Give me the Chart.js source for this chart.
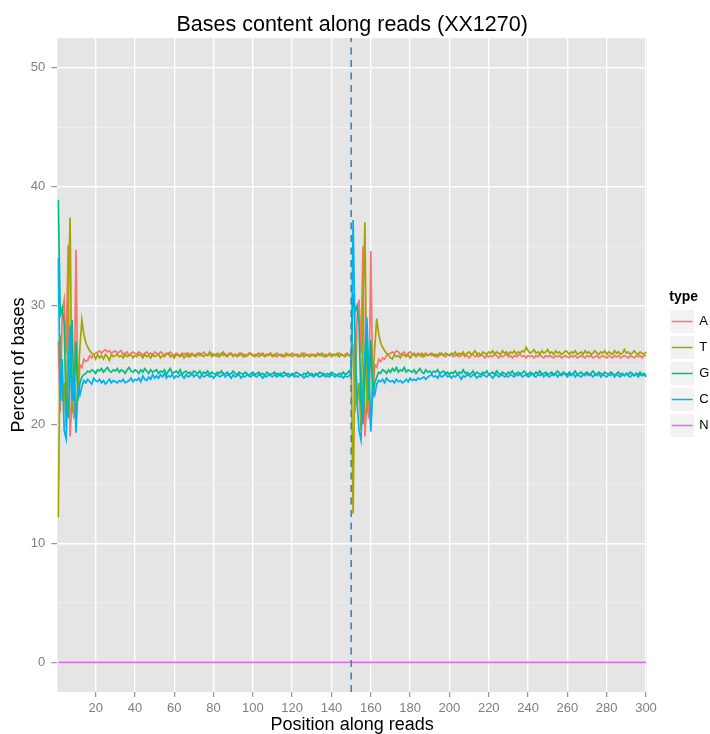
<!DOCTYPE html>
<html>
<head>
<meta charset="utf-8">
<script src="https://cdn.jsdelivr.net/npm/chart.js@4"></script>
<style>html,body{margin:0;padding:0;background:#ffffff}canvas{display:block}</style>
</head>
<body>
<canvas id="c" width="710" height="734"></canvas>
<script>
// ---------- data ----------
const positions = [];
for (let p = 1; p <= 300; p++) positions.push(p);

const seriesNames = ['A', 'T', 'G', 'C', 'N'];
const xTickValues = [20, 40, 60, 80, 100, 120, 140, 160, 180, 200, 220, 240, 260, 280, 300];
const yMajorTicks = [0, 10, 20, 30, 40, 50];
const yMinorTicks = [5, 15, 25, 35, 45];
const vlinePosition = 150;

const baseA = [
27.0,21.0,29.5,30.5,26.0,35.1,19.0,22.0,20.5,34.7,
22.2,25.0,24.8,25.5,25.3,25.4,25.8,25.6,25.9,26.0,
26.1,26.2,26.0,26.2,26.3,26.1,26.2,26.0,26.1,26.2,
26.0,26.1,26.2,25.9,26.0,26.1,25.8,26.0,26.1,26.0,
25.9,26.1,26.0,25.8,26.0,26.1,25.9,26.0,25.8,26.1,
26.0,25.9,26.1,26.0,25.8,26.0,25.9,26.1,25.9,25.8,
26.0,25.9,25.8,26.0,25.9,26.0,25.7,25.9,26.0,25.8,
25.9,26.0,25.8,25.9,26.1,25.9,25.8,25.9,26.0,25.8,
25.9,25.7,25.9,26.0,25.8,25.9,25.8,26.0,25.9,25.7,
25.9,25.8,26.0,25.9,25.7,25.9,25.8,25.9,26.0,25.8,
25.9,25.8,25.7,25.9,26.0,25.8,25.9,25.8,25.9,25.7,
25.8,26.0,25.9,25.8,25.9,25.7,25.8,25.9,25.8,26.0,
25.9,25.8,25.9,25.7,25.8,26.0,25.9,25.8,25.9,25.8,
25.9,25.8,26.0,25.9,25.8,25.7,25.9,25.8,26.0,25.9,
25.8,25.9,25.8,26.0,25.9,25.8,25.9,26.0,25.8,25.9,
26.5,21.0,29.0,30.5,26.0,35.0,19.0,22.0,20.5,34.6,
22.2,25.0,24.8,25.5,25.3,25.6,25.5,25.8,25.9,26.0,
26.1,26.0,26.2,26.1,25.9,26.0,26.1,25.8,26.0,26.1,
25.9,26.0,25.8,26.0,25.9,25.7,25.9,26.0,25.8,25.9,
25.8,25.9,25.7,25.9,25.8,26.0,25.8,25.7,25.9,25.8,
25.9,25.7,25.8,25.9,25.7,25.8,25.9,25.7,25.8,25.6,
25.8,25.9,25.7,25.8,25.7,25.9,25.8,25.6,25.8,25.7,
25.8,25.7,25.9,25.8,25.6,25.8,25.7,25.8,25.9,25.7,
25.8,25.6,25.8,25.7,25.8,25.9,25.7,25.8,25.6,25.8,
25.7,25.8,25.6,25.8,25.7,25.9,25.7,25.6,25.8,25.7,
25.8,25.7,25.6,25.8,25.7,25.8,25.6,25.7,25.8,25.7,
25.6,25.8,25.7,25.8,25.6,25.7,25.8,25.7,25.6,25.8,
25.7,25.8,25.6,25.7,25.8,25.6,25.7,25.8,25.7,25.6,
25.8,25.7,25.6,25.8,25.7,25.8,25.6,25.7,25.8,25.7,
25.6,25.8,25.7,25.6,25.8,25.7,25.8,25.6,25.8,25.8
];

const baseT = [
12.2,27.5,22.0,23.5,19.8,30.0,37.4,21.0,25.0,20.2,
23.5,26.5,28.8,27.6,26.9,26.5,26.2,26.0,25.9,25.5,
25.9,25.6,25.8,25.5,25.9,25.7,25.4,25.9,25.7,25.8,
25.9,25.7,25.8,25.6,25.9,25.7,25.8,25.9,25.6,25.8,
25.7,25.9,25.8,25.6,25.9,25.7,25.8,25.6,25.9,25.7,
25.8,25.9,25.6,25.8,25.7,25.9,26.0,25.7,25.8,25.6,
25.9,25.8,25.7,25.9,25.6,25.8,26.0,25.7,25.9,25.8,
25.7,25.9,26.0,25.8,25.7,25.9,25.8,26.1,25.7,25.9,
25.8,26.0,25.7,25.9,26.1,25.8,25.7,25.9,26.0,25.8,
25.9,25.7,25.8,26.0,25.9,25.7,25.8,26.0,25.9,25.8,
25.7,25.9,26.0,25.8,25.9,25.7,25.8,25.9,26.0,25.8,
25.9,25.7,25.8,25.9,25.7,25.8,26.0,25.8,25.9,25.7,
25.8,25.9,25.7,25.8,26.0,25.7,25.9,25.8,25.7,25.9,
25.8,25.7,25.9,25.8,26.0,25.9,25.7,25.8,25.9,25.7,
25.9,25.8,26.0,25.7,25.9,25.8,25.7,25.9,25.8,25.7,
12.5,28.0,21.5,23.5,19.5,30.0,37.0,21.0,25.0,20.0,
23.5,26.5,28.9,27.6,26.9,26.5,26.2,26.0,25.8,25.6,
25.5,25.9,25.7,25.8,25.6,25.9,25.8,25.7,25.9,25.6,
25.8,25.9,25.7,25.9,25.8,26.0,25.7,25.9,25.8,25.9,
26.0,25.8,25.9,25.7,26.0,25.9,25.8,26.0,25.9,25.8,
26.0,25.9,26.1,25.8,26.0,25.9,26.1,25.8,26.0,26.1,
25.9,26.0,26.2,25.9,26.0,25.8,26.1,26.0,25.9,26.1,
26.0,26.2,25.9,26.1,26.0,25.9,26.2,26.0,26.1,25.9,
26.1,26.0,26.2,25.9,26.1,26.0,26.2,26.1,26.5,26.2,
26.0,26.1,26.3,26.0,26.1,25.9,26.2,26.0,26.1,26.3,
26.0,26.1,25.9,26.2,26.0,26.1,25.9,26.0,26.2,26.1,
25.9,26.1,26.0,26.2,25.9,26.0,26.1,25.9,26.2,26.0,
26.1,25.9,26.0,26.2,26.0,25.9,26.1,26.0,26.2,25.9,
26.1,26.0,25.9,26.2,26.0,26.1,25.9,26.0,26.3,26.0,
26.1,25.9,26.0,26.2,26.0,25.9,26.1,26.0,25.9,26.1
];

const baseG = [
38.9,29.2,29.8,28.5,21.0,20.7,24.0,28.8,22.0,27.0,
22.0,23.5,24.0,24.2,24.3,24.5,24.4,24.6,24.5,24.3,
24.6,24.5,24.7,24.4,24.6,24.8,24.5,24.4,24.6,24.5,
24.7,24.4,24.6,24.5,24.3,24.6,24.8,24.5,24.4,24.6,
24.5,24.3,24.6,24.4,24.7,24.5,24.3,24.6,24.4,24.5,
24.6,24.3,24.5,24.4,24.6,24.2,24.5,24.7,24.3,24.4,
24.5,24.3,24.6,24.2,24.4,24.5,24.3,24.4,24.2,24.5,
24.4,24.3,24.5,24.2,24.4,24.3,24.5,24.2,24.4,24.3,
24.2,24.4,24.3,24.5,24.2,24.3,24.4,24.2,24.3,24.5,
24.3,24.2,24.4,24.3,24.2,24.4,24.3,24.1,24.3,24.4,
24.2,24.3,24.4,24.2,24.3,24.1,24.4,24.3,24.2,24.3,
24.4,24.2,24.3,24.1,24.3,24.4,24.2,24.3,24.1,24.3,
24.2,24.4,24.3,24.2,24.1,24.3,24.2,24.4,24.2,24.3,
24.1,24.3,24.2,24.4,24.3,24.1,24.2,24.3,24.2,24.4,
24.3,24.2,24.1,24.3,24.2,24.4,24.2,24.3,24.5,24.2,
31.0,29.5,30.0,28.5,22.0,20.0,24.0,27.5,22.0,27.1,
22.5,23.5,24.0,24.4,24.3,24.6,24.5,24.3,24.6,24.4,
24.7,24.5,24.8,24.4,24.6,24.5,24.8,24.4,24.6,24.5,
24.4,24.6,24.3,24.5,24.7,24.4,24.3,24.6,24.4,24.5,
24.3,24.5,24.4,24.6,24.3,24.4,24.5,24.3,24.4,24.2,
24.4,24.3,24.5,24.2,24.4,24.3,24.6,24.3,24.4,24.2,
24.3,24.5,24.2,24.4,24.3,24.2,24.4,24.3,24.5,24.2,
24.3,24.4,24.2,24.5,24.3,24.2,24.4,24.3,24.2,24.4,
24.3,24.5,24.2,24.3,24.4,24.2,24.3,24.5,24.3,24.2,
24.4,24.3,24.2,24.4,24.3,24.5,24.2,24.3,24.4,24.2,
24.3,24.4,24.2,24.3,24.5,24.3,24.2,24.4,24.3,24.2,
24.4,24.2,24.3,24.5,24.2,24.3,24.4,24.2,24.3,24.4,
24.2,24.3,24.5,24.3,24.2,24.4,24.3,24.2,24.4,24.3,
24.2,24.4,24.3,24.1,24.3,24.4,24.2,24.3,24.1,24.3,
24.2,24.4,24.3,24.1,24.3,24.2,24.4,24.2,24.3,24.1
];

const baseC = [
34.0,22.0,25.5,19.5,18.8,24.0,28.3,22.0,24.5,19.3,
23.0,22.5,23.2,23.7,23.5,23.8,23.6,23.4,23.9,23.7,
23.6,23.8,23.5,23.7,23.4,23.6,23.8,23.5,23.7,23.6,
23.5,23.7,23.6,23.8,23.5,23.6,23.7,23.9,23.6,23.8,
23.7,23.9,23.6,24.1,23.8,23.7,24.0,23.8,24.2,23.9,
24.1,23.9,24.2,24.0,24.3,23.9,24.1,24.0,24.2,23.9,
24.1,24.0,24.2,24.1,23.9,24.2,24.0,24.1,24.3,24.0,
24.2,24.1,23.9,24.2,24.0,24.1,24.2,24.0,24.1,23.9,
24.1,24.2,24.0,24.1,24.3,24.0,24.2,24.1,23.9,24.2,
24.0,24.1,24.2,23.9,24.1,24.0,24.2,24.1,24.0,24.2,
24.1,24.0,24.2,24.1,23.9,24.1,24.0,24.2,24.1,24.0,
24.2,24.0,24.1,24.3,24.0,24.1,24.2,24.0,24.1,24.2,
24.0,24.1,24.0,24.2,24.1,23.9,24.1,24.0,24.2,24.1,
24.0,24.2,24.1,24.0,24.1,24.3,24.0,24.1,24.0,24.2,
24.1,24.0,24.2,24.0,24.1,23.9,24.1,24.0,24.1,24.3,
37.2,27.0,22.0,19.5,18.7,23.0,26.0,29.0,24.0,19.4,
23.0,22.5,23.4,23.7,23.6,23.8,23.5,23.9,23.7,23.6,
23.7,23.5,23.8,23.6,23.7,23.5,23.6,23.8,23.6,23.9,
23.7,23.8,23.7,23.9,23.8,23.9,24.0,23.8,24.0,24.1,
24.2,24.0,24.1,23.9,24.2,24.0,24.1,24.3,24.0,24.1,
23.9,24.1,24.0,24.2,24.1,23.8,24.1,24.0,24.2,24.1,
24.0,24.2,24.1,23.9,24.1,24.0,24.2,24.1,24.0,24.2,
24.1,23.9,24.1,24.2,24.0,24.1,24.2,24.0,24.1,24.0,
24.2,24.1,24.0,24.2,24.1,24.3,24.0,24.1,24.2,24.0,
24.1,24.3,24.1,24.0,24.2,24.1,24.3,24.0,24.2,24.1,
24.0,24.2,24.1,24.3,24.0,24.2,24.1,24.3,24.2,24.0,
24.2,24.1,24.3,24.0,24.2,24.1,24.0,24.2,24.1,24.3,
24.1,24.2,24.0,24.2,24.1,24.3,24.0,24.2,24.1,24.0,
24.2,24.1,24.3,24.0,24.2,24.1,24.0,24.2,24.1,24.3,
24.1,24.0,24.2,24.1,24.3,24.0,24.2,24.1,24.2,24.0
];

const baseN = [
0,0,0,0,0,0,0,0,0,0,0,0,0,0,0,0,0,0,0,0,0,0,0,0,0,0,0,0,0,0,
0,0,0,0,0,0,0,0,0,0,0,0,0,0,0,0,0,0,0,0,0,0,0,0,0,0,0,0,0,0,
0,0,0,0,0,0,0,0,0,0,0,0,0,0,0,0,0,0,0,0,0,0,0,0,0,0,0,0,0,0,
0,0,0,0,0,0,0,0,0,0,0,0,0,0,0,0,0,0,0,0,0,0,0,0,0,0,0,0,0,0,
0,0,0,0,0,0,0,0,0,0,0,0,0,0,0,0,0,0,0,0,0,0,0,0,0,0,0,0,0,0,
0,0,0,0,0,0,0,0,0,0,0,0,0,0,0,0,0,0,0,0,0,0,0,0,0,0,0,0,0,0,
0,0,0,0,0,0,0,0,0,0,0,0,0,0,0,0,0,0,0,0,0,0,0,0,0,0,0,0,0,0,
0,0,0,0,0,0,0,0,0,0,0,0,0,0,0,0,0,0,0,0,0,0,0,0,0,0,0,0,0,0,
0,0,0,0,0,0,0,0,0,0,0,0,0,0,0,0,0,0,0,0,0,0,0,0,0,0,0,0,0,0,
0,0,0,0,0,0,0,0,0,0,0,0,0,0,0,0,0,0,0,0,0,0,0,0,0,0,0,0,0,0
];

// ---------- styling ----------
const FONT = "'Liberation Sans', Arial, Helvetica, sans-serif";
const seriesColors = ['#F8766D', '#A3A500', '#00BF7D', '#00B0F6', '#E76BF3'];
const seriesValues = [baseA, baseT, baseG, baseC, baseN];
const Y_MIN = -2.5, Y_MAX = 52.5;

const toPoints = (arr) => arr.map((v, i) => ({x: positions[i], y: v}));

const datasets = seriesNames.map((name, i) => ({
  label: name,
  data: toPoints(seriesValues[i]),
  borderColor: seriesColors[i],
  backgroundColor: seriesColors[i],
  borderWidth: 1.7,
  pointRadius: 0,
  fill: false,
  tension: 0,
  order: seriesNames.length - i
}));
datasets.push({
  label: 'vline',
  data: [{x: vlinePosition, y: Y_MIN}, {x: vlinePosition, y: Y_MAX}],
  borderColor: '#4682B4',
  borderWidth: 1.6,
  borderDash: [7, 5.5],
  pointRadius: 0,
  fill: false,
  order: 0
});

const isMajorY = (v) => yMajorTicks.includes(v);

const ggplotPanel = {
  id: 'ggplotPanel',
  afterLayout(chart) {
    const lg = chart.legend;
    if (!lg) return;
    lg.left = chart.chartArea.right + 11.7;
    lg.width = 50;
    lg.right = lg.left + lg.width;
  },
  beforeDraw(chart) {
    const {ctx, chartArea: a} = chart;
    ctx.save();
    ctx.fillStyle = '#E5E5E5';
    ctx.fillRect(a.left, a.top, a.right - a.left, a.bottom - a.top);
    const lg = chart.legend;
    if (lg && lg.legendHitBoxes) {
      lg.legendHitBoxes.forEach((hb) => {
        const cy = hb.top + hb.height / 2;
        ctx.fillStyle = '#F2F2F2';
        ctx.fillRect(hb.left - 1.7, cy - 12, 24.5, 24);
        ctx.strokeStyle = '#FFFFFF';
        ctx.lineWidth = 1;
        ctx.strokeRect(hb.left - 1.7, cy - 12, 24.5, 24);
      });
    }
    ctx.restore();
  }
};

new Chart(document.getElementById('c'), {
  type: 'line',
  data: {datasets},
  plugins: [ggplotPanel],
  options: {
    responsive: false,
    animation: false,
    events: [],
    font: {family: FONT},
    layout: {padding: {left: 0, right: 2.4, top: 0, bottom: 0}},
    plugins: {
      title: {
        display: true,
        text: 'Bases content along reads (XX1270)',
        color: '#000000',
        fullSize: false,
        font: {family: FONT, size: 21.5, weight: 'normal', lineHeight: 1.2},
        padding: {top: 12.3, bottom: 0}
      },
      legend: {
        position: 'right',
        align: 'center',
        fullSize: false,
        title: {
          display: true,
          text: 'type',
          color: '#000000',
          font: {family: FONT, size: 14, weight: 'bold', lineHeight: 0.85},
          padding: {top: 5, bottom: 0}
        },
        labels: {
          usePointStyle: true,
          pointStyle: 'line',
          pointStyleWidth: 21,
          padding: 13,
          color: '#000000',
          font: {family: FONT, size: 13},
          filter: (item) => item.datasetIndex < seriesNames.length,
          sort: (a, b) => a.datasetIndex - b.datasetIndex
        }
      },
      tooltip: {enabled: false}
    },
    scales: {
      x: {
        type: 'linear',
        min: 0.5,
        max: 300.5,
        afterBuildTicks: (s) => { s.ticks = xTickValues.map((v) => ({value: v})); },
        afterFit: (s) => { s.height = 42; },
        ticks: {
          color: '#7F7F7F',
          font: {family: FONT, size: 13},
          padding: 4,
          autoSkip: false,
          maxRotation: 0,
          callback: (v) => String(v)
        },
        grid: {color: '#FFFFFF', lineWidth: 1.4, tickColor: '#7F7F7F', tickLength: 5, tickWidth: 1},
        border: {display: false},
        title: {
          display: true,
          text: 'Position along reads',
          color: '#000000',
          font: {family: FONT, size: 18, lineHeight: 1},
          padding: {top: 0, bottom: 0}
        }
      },
      y: {
        type: 'linear',
        min: Y_MIN,
        max: Y_MAX,
        afterBuildTicks: (s) => {
          s.ticks = yMajorTicks.concat(yMinorTicks).sort((a, b) => a - b).map((v) => ({value: v}));
        },
        afterFit: (s) => { s.width = 57.3; },
        ticks: {
          color: '#7F7F7F',
          font: {family: FONT, size: 13},
          padding: 6,
          autoSkip: false,
          callback: (v) => (isMajorY(v) ? String(v) : '')
        },
        grid: {
          color: (c) => (c.tick && isMajorY(c.tick.value) ? '#FFFFFF' : '#F2F2F2'),
          lineWidth: (c) => (c.tick && isMajorY(c.tick.value) ? 1.4 : 0.6),
          tickColor: (c) => (c.tick && isMajorY(c.tick.value) ? '#7F7F7F' : 'rgba(0,0,0,0)'),
          tickLength: 6,
          tickWidth: 1
        },
        border: {display: false},
        title: {
          display: true,
          text: 'Percent of bases',
          color: '#000000',
          font: {family: FONT, size: 18, lineHeight: 1},
          padding: {top: 10, bottom: 0}
        }
      }
    }
  }
});
</script>
</body>
</html>
